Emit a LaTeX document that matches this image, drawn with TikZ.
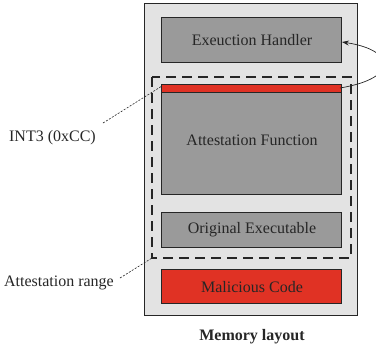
\documentclass[tikz,border=0pt]{standalone}
\usepackage{fontspec}
\setmainfont{Liberation Serif}
\usetikzlibrary{arrows.meta}
\definecolor{memfill}{HTML}{E3E3E3}
\definecolor{blockfill}{HTML}{9A9A9A}
\definecolor{hotred}{HTML}{E03224}
\definecolor{ink}{HTML}{262626}
\tikzset{
  region/.style={draw=ink, line width=1pt, fill=blockfill, inner sep=0pt},
  badregion/.style={region, fill=hotred},
  lbl/.style={text=ink, font=\fontsize{16}{19}\selectfont, inner sep=0pt},
  pointer/.style={draw=ink, line width=0.6pt, dash pattern=on 2pt off 1.5pt},
  rangebox/.style={draw=black!85, line width=1.7pt, dash pattern=on 10pt off 6pt}
}
\begin{document}
\begin{tikzpicture}[x=1pt, y=-1pt]
\useasboundingbox (0,0) rectangle (376,349);
% memory image
\path[draw=ink, line width=0.8pt, fill=memfill] (144,3) rectangle (357,315);
\path[region] (161,17) rectangle (341,62);
\node[lbl] (handler) at (252,40) {Exeuction Handler};
\coordinate (handlerE) at (342,42);
% attested region
\path[region] (161,92) rectangle (341,194);
\node[lbl] (attfn) at (252,140) {Attestation Function};
\path[badregion] (161,84) rectangle (341,92);
\coordinate (int3W) at (162,86);
\coordinate (int3E) at (340,88);
\path[region] (161,212) rectangle (341,247);
\node[lbl] (orig) at (252,230) {Original Executable};
\path[rangebox] (152,77) rectangle (351,258);
\coordinate (rangeSW) at (152,258);
% injected code
\path[badregion] (161,269) rectangle (341,303);
\node[lbl] (mal) at (252,287) {Malicious Code};
% annotations
\node[lbl, anchor=east] (int3) at (96,138) {INT3 (0xCC)};
\node[lbl, anchor=east] (range) at (114,283) {Attestation range};
\node[lbl, font=\fontsize{16}{19}\selectfont\bfseries] (title) at (252,337) {Memory layout};
\draw[pointer] (103,123) -- (int3W);
\draw[pointer] (120,278) -- (rangeSW);
\draw[ink, line width=0.7pt, -{Stealth[length=7pt, width=5pt]}]
  (int3E) .. controls (400,78) and (395,50) .. (handlerE);
\end{tikzpicture}
\end{document}
